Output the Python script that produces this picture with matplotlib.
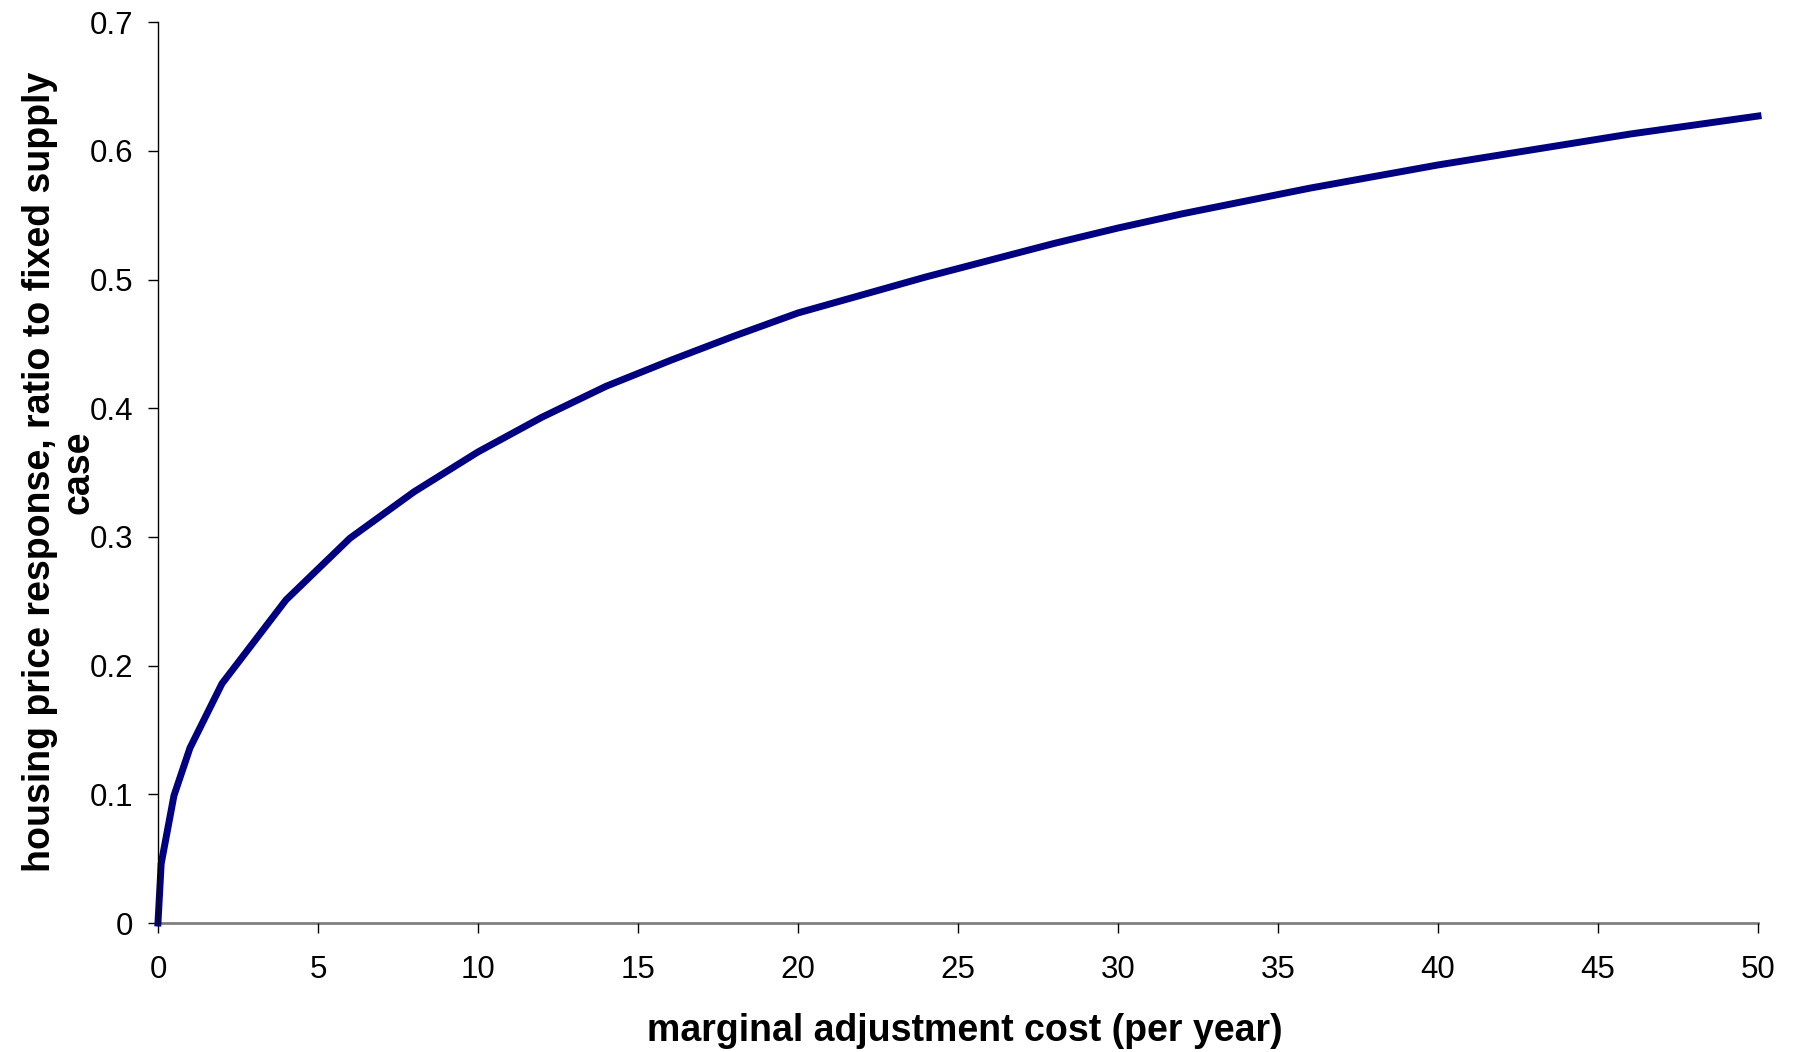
import matplotlib
matplotlib.use("Agg")
import matplotlib.pyplot as plt

cost = [0, 0.1, 0.5, 1, 2, 4, 6, 8, 10, 12, 14, 16, 18, 20, 22, 24, 26, 28, 30,
        32, 34, 36, 38, 40, 42, 44, 46, 48, 50]
response = [0.0, 0.046, 0.099, 0.136, 0.186, 0.251, 0.299, 0.335, 0.366, 0.393,
            0.417, 0.437, 0.456, 0.474, 0.488, 0.502, 0.515, 0.528, 0.540,
            0.551, 0.561, 0.571, 0.580, 0.589, 0.597, 0.605, 0.613, 0.620, 0.627]
xticks = [0, 5, 10, 15, 20, 25, 30, 35, 40, 45, 50]
yticks = [0, 0.1, 0.2, 0.3, 0.4, 0.5, 0.6, 0.7]
ytick_labels = ["0", "0.1", "0.2", "0.3", "0.4", "0.5", "0.6", "0.7"]
ylabel_lines = ["housing price response, ratio to fixed supply", "case"]
xlabel_text = "marginal adjustment cost (per year)"

plt.rcParams["font.family"] = ["Liberation Sans", "DejaVu Sans"]

W, H = 1797, 1052
fig = plt.figure(figsize=(W / 100, H / 100), dpi=100)
ax = fig.add_axes([0.0879, 0.1226, 0.8904, 0.8564])

ax.plot(cost, response, color="#000080", lw=5.0, solid_joinstyle="miter", clip_on=False)

ax.set_xlim(0, 50)
ax.set_ylim(0, 0.7)
ax.set_xticks(xticks)
ax.set_xticklabels([str(t) for t in xticks])
ax.set_yticks(yticks)
ax.set_yticklabels(ytick_labels)

for s in ["top", "right"]:
    ax.spines[s].set_visible(False)
ax.spines["left"].set_color("black")
ax.spines["left"].set_linewidth(1.0)
ax.spines["bottom"].set_color("#808080")
ax.spines["bottom"].set_linewidth(2.0)
ax.spines["bottom"].set_zorder(1)

ax.tick_params(axis="both", direction="out", length=7.2, width=1, color="black",
               labelsize=22.5)
ax.tick_params(axis="x", pad=16)
ax.tick_params(axis="y", pad=10.5)

ax.set_xlabel(xlabel_text, fontsize=27, fontweight="bold")
ax.xaxis.set_label_coords(0.504, -0.1002)

# y label: two separately placed rotated lines (baselines at x=50px and x=88px)
ycenter = 1 - 472 / H
for line, xb in zip(ylabel_lines, [50, 88]):
    fig.text(xb / W, ycenter, line, rotation=90, rotation_mode="anchor",
             ha="center", va="baseline", fontsize=27, fontweight="bold")

fig.savefig("out.png", dpi=100, facecolor="white")
